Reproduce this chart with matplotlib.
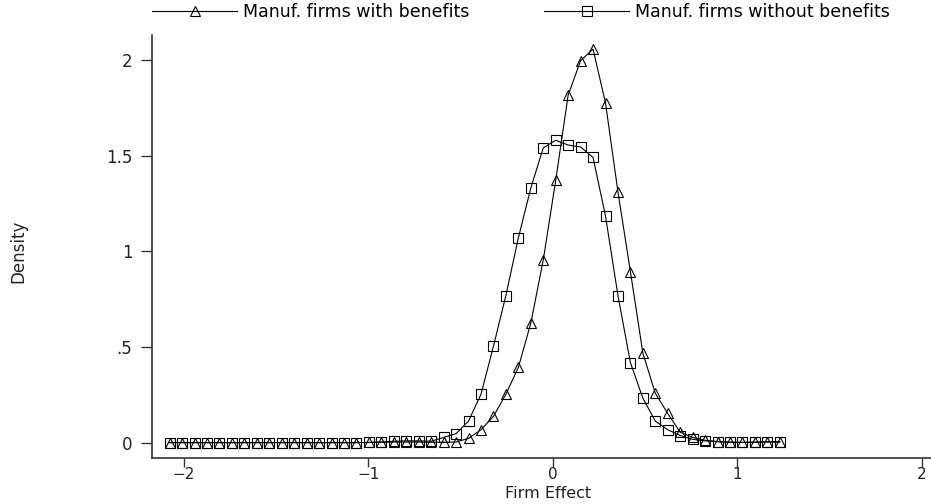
import numpy as np
import matplotlib
matplotlib.use('Agg')
import matplotlib.pyplot as plt

plt.rcParams['font.family'] = ['DejaVu Sans']

# kernel density evaluation grid (50 points)
x = np.linspace(-2.076, 1.230, 50)

with_benefits = [0.003, 0.003, 0.003, 0.003, 0.003, 0.003, 0.003, 0.003, 0.003, 0.003,
                 0.003, 0.003, 0.003, 0.003, 0.003, 0.003, 0.004, 0.005, 0.006, 0.006,
                 0.006, 0.005, 0.005, 0.006, 0.025, 0.07, 0.14, 0.255, 0.395, 0.625,
                 0.955, 1.37, 1.815, 1.995, 2.055, 1.775, 1.31, 0.895, 0.47, 0.26,
                 0.155, 0.057, 0.03, 0.015, 0.008, 0.005, 0.004, 0.005, 0.006, 0.005]

without_benefits = [0.003, 0.003, 0.003, 0.003, 0.003, 0.003, 0.003, 0.003, 0.003, 0.003,
                    0.003, 0.003, 0.003, 0.003, 0.003, 0.003, 0.004, 0.006, 0.01, 0.012,
                    0.012, 0.01, 0.03, 0.05, 0.115, 0.255, 0.505, 0.77, 1.07, 1.33,
                    1.54, 1.58, 1.555, 1.545, 1.49, 1.185, 0.77, 0.42, 0.235, 0.115,
                    0.07, 0.04, 0.02, 0.012, 0.008, 0.005, 0.004, 0.005, 0.008, 0.008]

fig = plt.figure(figsize=(9.31, 5.04), dpi=100)
ax = fig.add_axes([0.163, 0.091, 0.837, 0.84])

ax.plot(x, with_benefits, color='black', linewidth=0.8, marker='^', markersize=7,
        markerfacecolor='none', markeredgecolor='black', markeredgewidth=0.8,
        label='Manuf. firms with benefits')
ax.plot(x, without_benefits, color='black', linewidth=0.8, marker='s', markersize=6.5,
        markerfacecolor='none', markeredgecolor='black', markeredgewidth=0.8,
        label='Manuf. firms without benefits')

ax.set_xlim(-2.173, 2.049)
ax.set_ylim(-0.078, 2.13)
ax.set_xticks([-2, -1, 0, 1, 2])
ax.set_yticks([0, 0.5, 1, 1.5, 2])
ax.set_yticklabels(['0', '.5', '1', '1.5', '2'])
ax.tick_params(width=1, color='#333333', labelcolor='#222222')
ax.tick_params(axis='y', labelsize=12, length=8, pad=6)
ax.tick_params(axis='x', labelsize=11, length=6.5, pad=0)

for s in ['top', 'right']:
    ax.spines[s].set_visible(False)
for s in ['left', 'bottom']:
    ax.spines[s].set_color('#333333')
    ax.spines[s].set_linewidth(1.2)

ax.set_ylabel('Density', fontsize=12, color='#222222')
ax.yaxis.set_label_coords(-0.159, 0.489)
ax.set_xlabel('Firm Effect', fontsize=11.5, color='#222222')
ax.xaxis.set_label_coords(0.508, -0.065)

fig.legend(loc='upper left', bbox_to_anchor=(152 / 931, 0.994), ncol=2, frameon=False,
           fontsize=12.5, handlelength=4.9, handletextpad=0.35, columnspacing=4.3,
           numpoints=1, borderaxespad=0, borderpad=0)

fig.savefig('out.png', dpi=100)
